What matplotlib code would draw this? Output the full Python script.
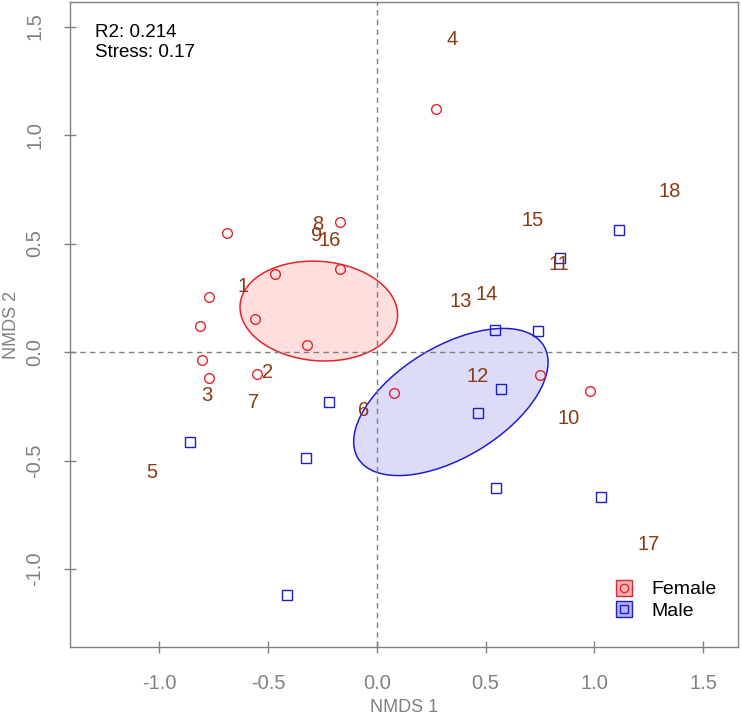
import numpy as np
import matplotlib
matplotlib.use("Agg")
from matplotlib import pyplot as plt
from matplotlib.patches import Ellipse
from matplotlib.lines import Line2D

plt.rcParams['font.family'] = ['Liberation Sans', 'DejaVu Sans']

# site scores, female samples
female_x = [-0.691, -0.170, -0.469, -0.170, -0.771, -0.814, -0.561, -0.320,
            -0.803, -0.772, -0.550, 0.271, 0.080, 0.751, 0.979]
female_y = [0.547, 0.600, 0.359, 0.381, 0.255, 0.120, 0.151, 0.034,
            -0.035, -0.118, -0.100, 1.118, -0.187, -0.106, -0.180]

# site scores, male samples
male_x = [1.111, 0.841, 0.544, 0.739, -0.860, -0.221, -0.326, -0.415,
          0.569, 0.463, 0.546, 1.030]
male_y = [0.562, 0.435, 0.104, 0.097, -0.416, -0.229, -0.490, -1.118,
          -0.169, -0.283, -0.628, -0.668]

# species scores (labels)
sp_labels = ['1', '2', '3', '4', '5', '6', '7', '8', '9', '10',
             '11', '12', '13', '14', '15', '16', '17', '18']
sp_x = [-0.617, -0.501, -0.780, 0.348, -1.036, -0.063, -0.566, -0.270, -0.277, 0.881,
        0.835, 0.461, 0.386, 0.507, 0.714, -0.219, 1.247, 1.347]
sp_y = [0.301, -0.094, -0.200, 1.442, -0.555, -0.270, -0.232, 0.590, 0.535, -0.306,
        0.404, -0.111, 0.235, 0.263, 0.605, 0.513, -0.885, 0.742]

# group ellipses: center x, center y, width, height, angle
ell_female = (-0.267, 0.189, 0.726, 0.458, -4.6)
ell_male = (0.340, -0.230, 0.999, 0.511, 31.3)

red = '#E3242B'
blue = '#1E1ECC'
brown = '#8B3A14'
grey = '#808080'

fig = plt.figure(figsize=(7.42, 7.17), dpi=100)
ax = fig.add_axes([0.0943, 0.0976, 0.9003, 0.8996])

for (cx, cy, w, h, a), col, fc in [(ell_female, red, '#FFDEDE'), (ell_male, blue, '#DCDCF8')]:
    ax.add_patch(Ellipse((cx, cy), w, h, angle=a, facecolor=fc, edgecolor=col, lw=1.1, zorder=1))

ax.axhline(0, color=grey, ls=(0, (4, 3)), lw=1, zorder=2)
ax.axvline(0, color=grey, ls=(0, (4, 3)), lw=1, zorder=2)

ax.plot(female_x, female_y, 'o', ms=7, mfc='none', mec=red, mew=1.0, zorder=3)
ax.plot(male_x, male_y, 's', ms=7, mfc='none', mec=blue, mew=1.0, zorder=3)

for lab, x, y in zip(sp_labels, sp_x, sp_y):
    ax.text(x, y, lab, color=brown, fontsize=14.5, ha='center', va='center', zorder=4)

ax.text(0.037, 0.966, 'R2: 0.214\nStress: 0.17', transform=ax.transAxes,
        ha='left', va='top', fontsize=13.5, linespacing=1.2)

ax.set_xlim(-1.411, 1.66)
ax.set_ylim(-1.359, 1.613)
ax.set_xticks([-1.0, -0.5, 0.0, 0.5, 1.0, 1.5])
ax.set_yticks([-1.0, -0.5, 0.0, 0.5, 1.0, 1.5])
ax.set_xticklabels(['-1.0', '-0.5', '0.0', '0.5', '1.0', '1.5'])
ax.set_yticklabels(['-1.0', '-0.5', '0.0', '0.5', '1.0', '1.5'], rotation=90, va='center')
ax.tick_params(direction='inout', length=9, width=1, color=grey, labelcolor=grey,
               labelsize=14.5, pad=14)
ax.tick_params(axis='x', pad=15)
for s in ax.spines.values():
    s.set_color(grey)
    s.set_linewidth(1)

ax.set_xlabel('NMDS 1', color=grey, fontsize=13, labelpad=4)
ax.set_ylabel('NMDS 2', color=grey, fontsize=13, labelpad=4)

h_f = (Line2D([], [], marker='s', ms=11, ls='none', mfc='#F8B4B4', mec=red, mew=1),
       Line2D([], [], marker='o', ms=6, ls='none', mfc='none', mec=red, mew=1))
h_m = (Line2D([], [], marker='s', ms=11, ls='none', mfc='#B4B4F0', mec=blue, mew=1),
       Line2D([], [], marker='s', ms=6, ls='none', mfc='none', mec=blue, mew=1))
ax.legend([h_f, h_m], ['Female', 'Male'], loc='lower left', bbox_to_anchor=(0.80, 0.03),
          frameon=False, fontsize=14, handlelength=1.2, handletextpad=0.8,
          labelspacing=0.2, borderaxespad=0)

fig.savefig('out.png', dpi=100)
